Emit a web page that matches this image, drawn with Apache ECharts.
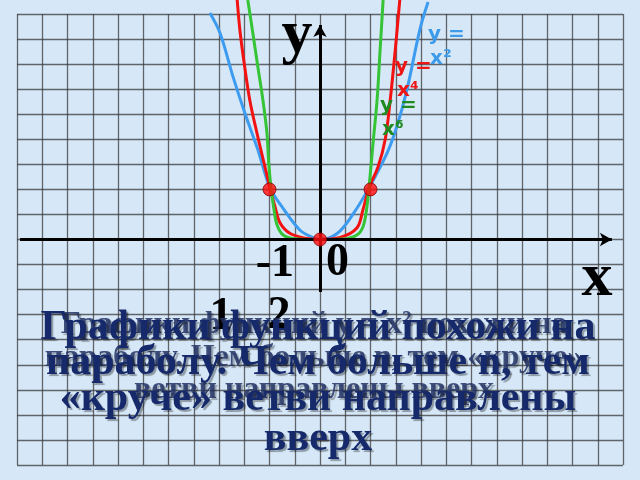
<!DOCTYPE html>
<html><head><meta charset="utf-8">
<script src="https://cdn.jsdelivr.net/npm/echarts@6/dist/echarts.min.js"></script>
<style>html,body{margin:0;padding:0;background:#d6e8f8}#c{width:640px;height:480px}</style>
</head><body><div id="c"></div>
<script>
// Curves (x, y in axis units; the marked points sit at (±1, 1))
const curveX2 = [[-2.18,4.52],[-1.98,4.12],[-1.72,3.24],[-1.49,2.53],[-1.23,1.79],[-0.99,1.03],[-0.73,0.62],[-0.40,0.19],[-0.14,0.04],[0,0],[0.34,0.12],[0.65,0.50],[0.97,1.03],[1.33,1.73],[1.52,2.25],[1.72,2.98],[1.98,4.20],[2.14,4.74]];
const curveX4 = [[-1.64,4.78],[-1.58,4.12],[-1.49,3.44],[-1.39,2.78],[-1.25,2.13],[-1.09,1.45],[-0.99,1.03],[-0.89,0.65],[-0.79,0.33],[-0.59,0.12],[-0.26,0.02],[0,0],[0.40,0.04],[0.73,0.23],[0.85,0.59],[0.97,1.03],[1.15,1.45],[1.29,1.99],[1.39,2.78],[1.49,3.78],[1.58,4.78]];
const curveX6 = [[-1.43,4.78],[-1.33,4.12],[-1.23,3.44],[-1.13,2.78],[-1.05,2.12],[-1.02,1.59],[-0.97,1.03],[-0.91,0.59],[-0.85,0.29],[-0.73,0.09],[-0.46,0.01],[0,0],[0.46,0.01],[0.73,0.09],[0.85,0.25],[0.92,0.59],[0.97,1.03],[1.05,1.92],[1.13,2.78],[1.19,3.78],[1.25,4.78]];
const markedPoints = [[-1,1],[1,1],[0,0]];
const xAxisSpan = [-5.94, 5.78];
const yAxisSpan = [-1.05, 4.28];
const legendTexts = [['y =','x²'],['y =','x⁴'],['y =','x⁶']];
const tickTexts = ['-1','0','1','2'];
const axisNames = ['y','x'];
const bigLines = ['Графики функций похожи на','параболу. Чем больше n, тем','«круче» ветви направлены','вверх'];
const smallLines = ['Графики функций y = x² похожи на','параболу. Чем больше n, тем «круче»','ветви направлены вверх'];

const chart = echarts.init(document.getElementById('c'), null, {renderer:'canvas'});
const gridLine = {show:true, lineStyle:{color:'#3a3a3a', width:1.3, type:'solid', opacity:0.75}};
const serif = '"Liberation Serif", "DejaVu Serif", serif';
const sans = '"DejaVu Sans", Verdana, sans-serif';
const navy = '#15296b';
const shadow = {textShadowColor:'rgba(0,0,0,0.35)', textShadowOffsetX:2, textShadowOffsetY:2, textShadowBlur:1};

function txt(text, x, y, size, color, font, align, z, extra){
  return {type:'text', x:x, y:y, z:z||10, style:Object.assign({text:text, fill:color, font:'bold '+size+'px '+font, align:align||'center', verticalAlign:'middle'}, extra||{})};
}
const legendColors = ['#3d9be9','#ee1515','#1f8a1f'];
const legendPos = [[428,35],[395,67],[380,106]];
const graphics = [];
legendTexts.forEach((t,i)=>{
  graphics.push(txt(t[0], legendPos[i][0], legendPos[i][1], 20, legendColors[i], sans, 'left', 5));
  graphics.push(txt(t[1], legendPos[i][0]+2, legendPos[i][1]+24, 20, legendColors[i], sans, 'left', 5));
});
graphics.push(txt(axisNames[0], 297, 36, 62, '#000', serif, 'center', 5));
graphics.push(txt(axisNames[1], 597, 279, 62, '#000', serif, 'center', 5));
graphics.push(txt(tickTexts[0], 294, 264, 46, '#000', serif, 'right', 5));
graphics.push(txt(tickTexts[1], 326, 263, 46, '#000', serif, 'left', 5));
graphics.push(txt(tickTexts[2], 221, 317, 46, '#000', serif, 'center', 5));
graphics.push(txt(tickTexts[3], 279, 316, 46, '#000', serif, 'center', 5));
const smallY = [325, 358, 390];
smallLines.forEach((s,i)=>graphics.push(txt(s, 314, smallY[i], 32, 'rgba(35,50,100,0.85)', serif, 'center', 20, shadow)));
const bigY = [328, 363, 399, 439];
bigLines.forEach((s,i)=>graphics.push(txt(s, 318, bigY[i], 42, navy, serif, 'center', 30, shadow)));

function curve(data, color){
  return {type:'line', data:data, smooth:0.35, symbol:'none', clip:false, z:4,
    lineStyle:{color:color, width:3}};
}
chart.setOption({
  backgroundColor:'#d6e8f8',
  animation:false,
  grid:{left:17, right:17, top:14, bottom:15},
  xAxis:{type:'value', min:-6, max:6, interval:0.5, axisLine:{show:false}, axisTick:{show:false}, axisLabel:{show:false}, splitLine:gridLine},
  yAxis:{type:'value', min:-4.5, max:4.5, interval:0.5, axisLine:{show:false}, axisTick:{show:false}, axisLabel:{show:false}, splitLine:gridLine},
  series:[
    {type:'line', data:[], z:3, markLine:{silent:true, symbol:['none','arrow'], symbolSize:[10,12], label:{show:false},
      lineStyle:{color:'#000', width:3, type:'solid'},
      data:[
        [{coord:[xAxisSpan[0],0]},{coord:[xAxisSpan[1],0]}],
        [{coord:[0,yAxisSpan[0]]},{coord:[0,yAxisSpan[1]]}]
      ]}},
    curve(curveX2, '#3d9bf0'),
    curve(curveX4, '#f21212'),
    curve(curveX6, '#35c435'),
    {type:'scatter', data:markedPoints, symbolSize:13, z:6, itemStyle:{color:'#ff0a0a', borderColor:'#8a0000', borderWidth:1}}
  ],
  graphic:graphics
});
</script></body></html>
